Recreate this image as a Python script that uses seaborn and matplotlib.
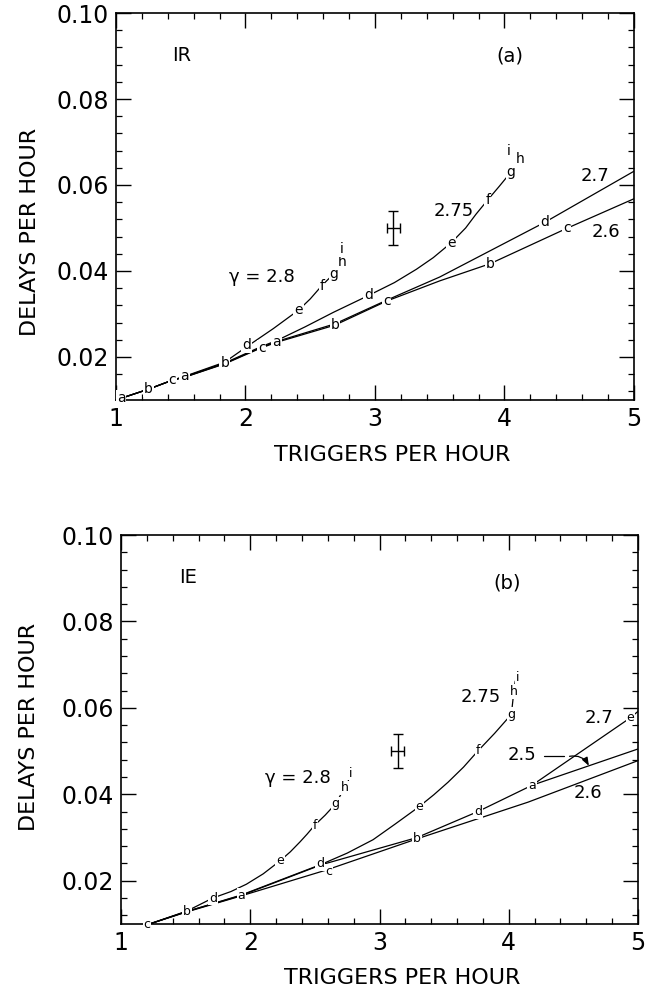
import matplotlib
matplotlib.use("Agg")
import matplotlib.pyplot as plt
import seaborn as sns
import pandas as pd
from matplotlib.ticker import MultipleLocator

# ---------------- data: panel (a) IR ----------------
a_g280_x = [1.03, 1.25, 1.435, 1.53, 1.84, 2.02, 2.215, 2.41, 2.50, 2.59, 2.64, 2.69, 2.72, 2.75]
a_g280_y = [0.0103, 0.0125, 0.0146, 0.0155, 0.0188, 0.0226, 0.0266, 0.0309, 0.0335, 0.0366, 0.0381, 0.0396, 0.0416, 0.0437]
a_g275_x = [1.03, 1.25, 1.435, 1.53, 1.84, 2.12, 2.24, 2.46, 2.68, 2.95, 3.15, 3.32, 3.45, 3.59, 3.70, 3.78, 3.87, 3.96, 4.05, 4.12]
a_g275_y = [0.0103, 0.0125, 0.0146, 0.0154, 0.0186, 0.0224, 0.0238, 0.0270, 0.0304, 0.0343, 0.0373, 0.0404, 0.0431, 0.0466, 0.0500, 0.0532, 0.0565, 0.0597, 0.0630, 0.0661]
a_g270_x = [1.03, 1.25, 1.435, 1.53, 1.84, 2.12, 2.24, 2.69, 3.09, 3.50, 4.31, 5.0]
a_g270_y = [0.0103, 0.0125, 0.0146, 0.0153, 0.0185, 0.0222, 0.0236, 0.0277, 0.0332, 0.0386, 0.0513, 0.0632]
a_g260_x = [1.03, 1.25, 1.435, 1.53, 1.84, 2.12, 2.24, 2.69, 3.09, 3.50, 3.89, 4.48, 5.0]
a_g260_y = [0.0103, 0.0125, 0.0146, 0.0153, 0.0184, 0.0221, 0.0234, 0.0274, 0.0330, 0.0377, 0.0417, 0.0499, 0.0568]

a_letters = ["a", "b", "c", "a", "b", "d", "c", "a", "e", "f", "g", "h", "i",
             "b", "c", "d", "e", "f", "g", "h", "i", "d", "b", "c"]
a_letter_x = [1.04, 1.25, 1.435, 1.53, 1.84, 2.01, 2.125, 2.24, 2.41, 2.59, 2.685, 2.745, 2.745,
              2.69, 3.09, 2.95, 3.59, 3.87, 4.05, 4.12, 4.03, 4.31, 3.89, 4.48]
a_letter_y = [0.0104, 0.0125, 0.0146, 0.0155, 0.0186, 0.0227, 0.0222, 0.0236, 0.0309, 0.0366, 0.0393, 0.0420, 0.0451,
              0.0275, 0.0331, 0.0343, 0.0466, 0.0565, 0.0630, 0.0661, 0.0680, 0.0513, 0.0417, 0.0499]

a_labels = ["IR", "(a)", "γ = 2.8", "2.75", "2.7", "2.6"]
a_label_x = [1.51, 4.04, 2.13, 3.61, 4.70, 4.78]
a_label_y = [0.0902, 0.0900, 0.0386, 0.0540, 0.0622, 0.0490]

# ---------------- data: panel (b) IE ----------------
b_g280_x = [1.22, 1.51, 1.71, 1.85, 1.97, 2.10, 2.23, 2.31, 2.385, 2.44, 2.50, 2.58, 2.66, 2.73, 2.76]
b_g280_y = [0.0100, 0.0130, 0.0160, 0.0175, 0.0192, 0.0216, 0.0246, 0.0267, 0.0290, 0.0308, 0.0329, 0.0352, 0.0378, 0.0415, 0.0432]
b_g275_x = [1.22, 1.51, 1.93, 2.55, 2.75, 2.95, 3.12, 3.30, 3.42, 3.53, 3.65, 3.76, 3.89, 4.02, 4.04, 4.05]
b_g275_y = [0.0100, 0.0129, 0.0167, 0.0238, 0.0264, 0.0295, 0.0331, 0.0370, 0.0399, 0.0428, 0.0463, 0.0500, 0.0541, 0.0585, 0.0640, 0.0662]
b_g270_x = [1.22, 1.51, 1.93, 2.55, 3.29, 3.76, 4.18, 4.94, 5.0]
b_g270_y = [0.0100, 0.0129, 0.0166, 0.0237, 0.0300, 0.0360, 0.0421, 0.0577, 0.0592]
b_g260_x = [1.22, 1.51, 1.93, 2.59, 3.29, 4.15, 5.0]
b_g260_y = [0.0100, 0.0128, 0.0165, 0.0225, 0.0297, 0.0382, 0.0478]
b_g250_x = [4.18, 5.0]
b_g250_y = [0.0421, 0.0505]

b_letters = ["c", "b", "d", "a", "e", "f", "g", "h", "i", "d", "c", "b", "e", "d",
             "f", "g", "h", "i", "a", "e"]
b_letter_x = [1.20, 1.51, 1.71, 1.93, 2.23, 2.50, 2.66, 2.73, 2.775, 2.54, 2.61, 3.29, 3.31, 3.76,
              3.76, 4.02, 4.04, 4.07, 4.18, 4.94]
b_letter_y = [0.0098, 0.0130, 0.0160, 0.0167, 0.0246, 0.0329, 0.0378, 0.0415, 0.0449, 0.0240, 0.0222, 0.0298, 0.0371, 0.0360,
              0.0501, 0.0585, 0.0638, 0.0670, 0.0421, 0.0578]

b_labels = ["IE", "(b)", "γ = 2.8", "2.75", "2.7", "2.5", "2.6"]
b_label_x = [1.52, 3.99, 2.37, 3.78, 4.70, 4.10, 4.61]
b_label_y = [0.0902, 0.0890, 0.0437, 0.0626, 0.0576, 0.0490, 0.0404]

# error bar (both panels)
err_x = [3.14]
err_y = [0.050]
err_dx = [0.05]
err_dy = [0.004]

# leader for "2.5"
lead_x = [4.27, 4.43]
lead_y = [0.0489, 0.0489]
arrow_from = (4.47, 0.0488)
arrow_to = (4.62, 0.0466)

x_ticks = [1, 2, 3, 4, 5]
x_ticklabels = ["1", "2", "3", "4", "5"]
y_ticks = [0.02, 0.04, 0.06, 0.08, 0.10]
y_ticklabels = ["0.02", "0.04", "0.06", "0.08", "0.10"]

# ---------------- drawing ----------------
sns.set_theme(style="ticks")
plt.rcParams["font.family"] = ["DejaVu Sans"]
plt.rcParams["text.color"] = "black"

fig = plt.figure(figsize=(6.45, 9.93), dpi=100)
fig.patch.set_facecolor("white")
ax1 = fig.add_axes([0.1798, 0.5972, 0.8031, 0.3897])
ax2 = fig.add_axes([0.1876, 0.0695, 0.8016, 0.3917])


def make_df(curves):
    rows = []
    for name, xs, ys in curves:
        for xv, yv in zip(xs, ys):
            rows.append({"curve": name, "x": xv, "y": yv})
    return pd.DataFrame(rows)


df_a = make_df([("2.8", a_g280_x, a_g280_y), ("2.75", a_g275_x, a_g275_y),
                ("2.7", a_g270_x, a_g270_y), ("2.6", a_g260_x, a_g260_y)])
df_b = make_df([("2.8", b_g280_x, b_g280_y), ("2.75", b_g275_x, b_g275_y),
                ("2.7", b_g270_x, b_g270_y), ("2.6", b_g260_x, b_g260_y),
                ("2.5", b_g250_x, b_g250_y)])


def style_axes(ax, xlabel_pos, ylabel_pos):
    ax.set_xlim(1, 5)
    ax.set_ylim(0.01, 0.10)
    ax.set_xticks(x_ticks)
    ax.set_xticklabels(x_ticklabels)
    ax.set_yticks(y_ticks)
    ax.set_yticklabels(y_ticklabels)
    ax.xaxis.set_minor_locator(MultipleLocator(0.2))
    ax.yaxis.set_minor_locator(MultipleLocator(0.004))
    ax.tick_params(which="both", direction="in", top=True, right=True, colors="black")
    ax.tick_params(which="major", length=11, width=1.0, labelsize=17, pad=5)
    ax.tick_params(which="minor", length=4.5, width=0.9)
    for s in ax.spines.values():
        s.set_linewidth(1.2)
        s.set_color("black")
    ax.set_facecolor("white")
    ax.set_xlabel("TRIGGERS PER HOUR", fontsize=16, color="black")
    ax.set_ylabel("DELAYS PER HOUR", fontsize=16, color="black")
    ax.xaxis.set_label_coords(*xlabel_pos)
    ax.yaxis.set_label_coords(*ylabel_pos)
    ax.xaxis.label.set_va("center")
    ax.yaxis.label.set_va("center")


for ax, df, letters, lx, ly, labels, tx, ty, fs in [
    (ax1, df_a, a_letters, a_letter_x, a_letter_y, a_labels, a_label_x, a_label_y, 10),
    (ax2, df_b, b_letters, b_letter_x, b_letter_y, b_labels, b_label_x, b_label_y, 9),
]:
    sns.lineplot(data=df, x="x", y="y", units="curve", estimator=None, sort=False,
                 color="black", linewidth=0.9, ax=ax, legend=False)
    for t, xv, yv in zip(letters, lx, ly):
        ax.text(xv, yv, t, fontsize=fs, ha="center", va="center", zorder=5, clip_on=False,
                bbox=dict(boxstyle="square,pad=0.06", fc="white", ec="none"))
    for t, xv, yv in zip(labels, tx, ty):
        ax.text(xv, yv, t, fontsize=13 if t[0] != "I" and t[0] != "(" else 14,
                ha="center", va="center", zorder=6)
    ax.errorbar(err_x, err_y, xerr=err_dx, yerr=err_dy, fmt="none", ecolor="black",
                elinewidth=1.0, capsize=3.5, capthick=1.0)

style_axes(ax1, (0.534, -0.142), (-0.166, 0.434))
style_axes(ax2, (0.543, -0.139), (-0.178, 0.506))

ax2.plot(lead_x, lead_y, color="black", linewidth=0.9)
ax2.annotate("", xy=arrow_to, xytext=arrow_from,
             arrowprops=dict(arrowstyle="-|>,head_length=0.4,head_width=0.15", color="black",
                             lw=0.9, connectionstyle="arc3,rad=-0.35", shrinkA=0, shrinkB=0))

fig.savefig("out.png", dpi=100, facecolor="white")
